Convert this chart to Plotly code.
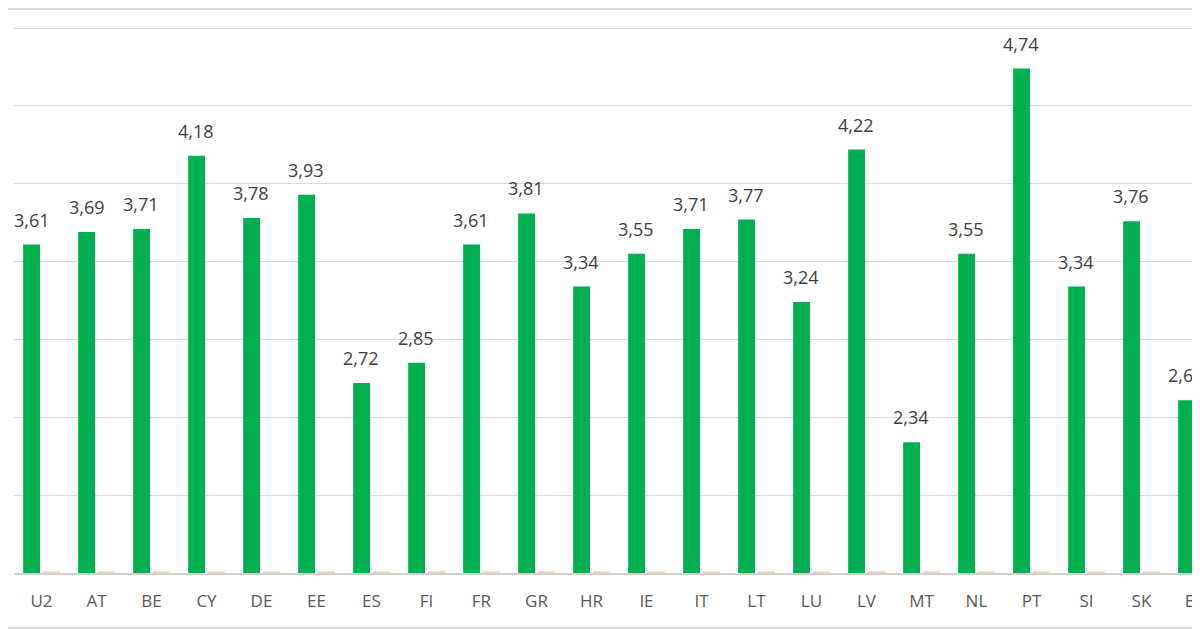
import plotly.graph_objects as go

categories = ["U2", "AT", "BE", "CY", "DE", "EE", "ES", "FI", "FR", "GR", "HR",
              "IE", "IT", "LT", "LU", "LV", "MT", "NL", "PT", "SI", "SK", "BG"]
series_main = [3.61, 3.69, 3.71, 4.18, 3.78, 3.93, 2.72, 2.85, 3.61, 3.81, 3.34,
               3.55, 3.71, 3.77, 3.24, 4.22, 2.34, 3.55, 4.74, 3.34, 3.76, 2.61]
series_second = [1.51] * len(categories)
y_min, y_max, y_step = 1.5, 5.0, 0.5

def fmt(v):
    return f"{v:.2f}".replace(".", ",")

fig = go.Figure()
fig.add_trace(go.Bar(x=categories, y=series_main, marker=dict(color="#00b050", line=dict(width=0)),
                     name="A"))
fig.add_trace(go.Bar(x=categories, y=series_second, marker=dict(color="#f6c9ae", line=dict(width=0)),
                     name="B"))

annotations = []
for c, v in zip(categories, series_main):
    annotations.append(dict(x=c, y=v, text=fmt(v), showarrow=False, xref="x", yref="y",
                            xanchor="center", yanchor="bottom", xshift=-10, yshift=11,
                            font=dict(family="Open Sans", size=18, color="#404040")))

fig.update_layout(
    width=1200, height=630,
    margin=dict(l=6, r=0, t=17, b=65),
    paper_bgcolor="white", plot_bgcolor="white",
    showlegend=False,
    barmode="group", bargap=0.28, bargroupgap=0.15,
    annotations=annotations,
    shapes=[
        dict(type="line", xref="paper", yref="paper", x0=-0.02, x1=1.0, y0=1.029, y1=1.029,
             line=dict(color="#d9d9d9", width=2)),
        dict(type="line", xref="paper", yref="paper", x0=-0.02, x1=1.0, y0=-0.1, y1=-0.1,
             line=dict(color="#d9d9d9", width=2)),
    ],
)
fig.update_xaxes(range=[-0.5, 21.21], showgrid=False, showline=True, linecolor="#d0d0d0",
                 linewidth=1.5, ticks="outside", ticklen=12, tickcolor="rgba(0,0,0,0)",
                 tickfont=dict(family="Open Sans", size=17, color="#595959"))
fig.update_yaxes(range=[y_min, y_max + 0.02], dtick=y_step, tick0=y_min, showgrid=True,
                 gridcolor="#d9d9d9", gridwidth=1, showticklabels=False, zeroline=False,
                 showline=False)

fig.write_html("out.html")
